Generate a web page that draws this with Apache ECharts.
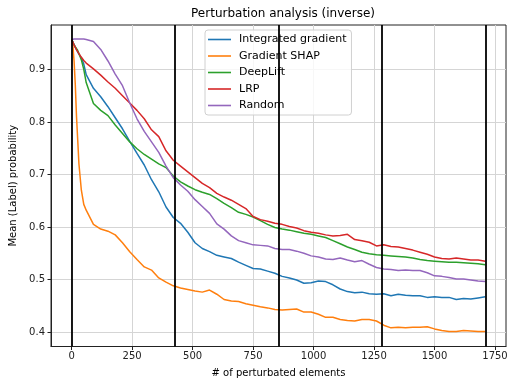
<!DOCTYPE html>
<html>
<head>
<meta charset="utf-8">
<script src="https://cdn.jsdelivr.net/npm/echarts@6/dist/echarts.min.js"></script>
<style>
  html, body { margin: 0; padding: 0; background: #fff; }
  #chart { width: 508px; height: 385px; }
</style>
</head>
<body>
<div id="chart"></div>
<script>
// Number of perturbated elements at each sample
const steps = [0, 5, 10, 15, 20, 25, 30, 40, 50, 60,
  90, 120, 150, 180, 210, 240, 270, 300, 330, 360, 390, 420, 450, 480, 510, 540, 570, 600,
  630, 660, 690, 720, 750, 780, 810, 840, 870, 900, 930, 960, 990, 1020, 1050, 1080, 1110,
  1140, 1170, 1200, 1230, 1260, 1290, 1320, 1350, 1380, 1410, 1440, 1470, 1500, 1530, 1560,
  1590, 1620, 1650, 1680, 1710];

const integratedGradient = [0.957, 0.952, 0.947, 0.942, 0.938, 0.933, 0.929, 0.922, 0.910, 0.890,
  0.864, 0.848, 0.829, 0.808, 0.787, 0.763, 0.740, 0.718, 0.690, 0.667, 0.638, 0.618, 0.607, 0.590, 0.570, 0.559, 0.553, 0.546,
  0.543, 0.540, 0.533, 0.527, 0.521, 0.520, 0.516, 0.512, 0.506, 0.503, 0.499, 0.493, 0.494, 0.497, 0.496, 0.490, 0.482,
  0.477, 0.475, 0.476, 0.473, 0.472, 0.473, 0.469, 0.472, 0.470, 0.469, 0.469, 0.466, 0.467, 0.466, 0.466,
  0.462, 0.464, 0.463, 0.465, 0.467];

const gradientShap = [0.957, 0.945, 0.915, 0.870, 0.810, 0.765, 0.720, 0.670, 0.643, 0.632,
  0.605, 0.596, 0.592, 0.585, 0.570, 0.553, 0.538, 0.524, 0.518, 0.503, 0.495, 0.488, 0.484, 0.481, 0.478, 0.476, 0.480, 0.472,
  0.462, 0.459, 0.458, 0.454, 0.451, 0.448, 0.446, 0.443, 0.442, 0.443, 0.444, 0.438, 0.438, 0.434, 0.428, 0.428, 0.424,
  0.422, 0.421, 0.424, 0.424, 0.421, 0.413, 0.408, 0.409, 0.408, 0.409, 0.409, 0.410, 0.406, 0.403, 0.401,
  0.401, 0.403, 0.402, 0.401, 0.401];

const deepLift = [0.957, 0.952, 0.947, 0.943, 0.940, 0.936, 0.933, 0.918, 0.900, 0.875,
  0.835, 0.822, 0.812, 0.794, 0.778, 0.762, 0.749, 0.738, 0.729, 0.720, 0.713, 0.697, 0.686, 0.678, 0.671, 0.666, 0.662, 0.654,
  0.645, 0.637, 0.628, 0.624, 0.619, 0.612, 0.605, 0.599, 0.596, 0.594, 0.591, 0.588, 0.586, 0.583, 0.580, 0.574, 0.568,
  0.562, 0.557, 0.552, 0.549, 0.547, 0.546, 0.545, 0.544, 0.543, 0.541, 0.538, 0.536, 0.535, 0.534, 0.533,
  0.533, 0.532, 0.531, 0.530, 0.528];

const lrp = [0.957, 0.952, 0.946, 0.942, 0.937, 0.934, 0.930, 0.923, 0.917, 0.912,
  0.901, 0.889, 0.876, 0.864, 0.850, 0.836, 0.822, 0.806, 0.785, 0.772, 0.745, 0.727, 0.716, 0.705, 0.694, 0.683, 0.675, 0.664,
  0.657, 0.651, 0.643, 0.635, 0.620, 0.614, 0.611, 0.607, 0.605, 0.601, 0.598, 0.593, 0.590, 0.588, 0.585, 0.583, 0.584,
  0.586, 0.576, 0.574, 0.571, 0.564, 0.566, 0.563, 0.562, 0.559, 0.556, 0.552, 0.548, 0.543, 0.540, 0.539,
  0.541, 0.539, 0.537, 0.537, 0.535];

const random = [0.957, 0.958, 0.958, 0.958, 0.958, 0.958, 0.958, 0.958, 0.958, 0.957,
  0.953, 0.938, 0.916, 0.891, 0.869, 0.836, 0.806, 0.782, 0.762, 0.742, 0.716, 0.694, 0.680, 0.668, 0.652, 0.639, 0.626, 0.606,
  0.596, 0.583, 0.574, 0.570, 0.566, 0.565, 0.564, 0.559, 0.557, 0.557, 0.554, 0.550, 0.545, 0.543, 0.539, 0.538, 0.541,
  0.537, 0.534, 0.536, 0.529, 0.523, 0.520, 0.519, 0.517, 0.518, 0.517, 0.517, 0.513, 0.507, 0.506, 0.504,
  0.501, 0.501, 0.499, 0.497, 0.496];

// Quarter boundaries of the perturbation run
const quarterMarks = [0, 427, 855, 1282, 1710];

const xTicks = [0, 250, 500, 750, 1000, 1250, 1500, 1750];
const yTicks = [0.4, 0.5, 0.6, 0.7, 0.8, 0.9];

const seriesDefs = [
  { name: 'Integrated gradient', values: integratedGradient, color: '#1f77b4' },
  { name: 'Gradient SHAP', values: gradientShap, color: '#ff7f0e' },
  { name: 'DeepLift', values: deepLift, color: '#2ca02c' },
  { name: 'LRP', values: lrp, color: '#d62728' },
  { name: 'Random', values: random, color: '#9467bd' }
];

const font = 'DejaVu Sans';
const chart = echarts.init(document.getElementById('chart'), null, { renderer: 'canvas' });

const series = seriesDefs.map(s => ({
  name: s.name,
  type: 'line',
  data: steps.map((x, i) => [x, s.values[i]]),
  showSymbol: false,
  symbol: 'none',
  lineStyle: { color: s.color, width: 1.5 },
  itemStyle: { color: s.color },
  animation: false,
  z: 3
}));

series.push({
  name: 'quarters',
  type: 'line',
  data: [],
  silent: true,
  animation: false,
  markLine: {
    symbol: 'none',
    silent: true,
    animation: false,
    label: { show: false },
    lineStyle: { color: '#000', width: 1.8, type: 'solid' },
    data: quarterMarks.map(v => ({ xAxis: v }))
  },
  z: 4
});

chart.setOption({
  animation: false,
  backgroundColor: '#fff',
  title: {
    text: 'Perturbation analysis (inverse)',
    left: 278, top: 3,
    textAlign: 'center',
    textStyle: { fontFamily: font, fontSize: 12, fontWeight: 'normal', color: '#000' }
  },
  legend: {
    data: seriesDefs.map(s => s.name),
    orient: 'vertical',
    left: 205, top: 30,
    icon: 'rect',
    itemWidth: 23, itemHeight: 1.6,
    itemGap: 3.5,
    padding: [3, 5, 3, 3],
    backgroundColor: 'rgba(255,255,255,0.8)',
    borderColor: '#d0d0d0', borderWidth: 1, borderRadius: 3,
    textStyle: { fontFamily: font, fontSize: 11, color: '#000', lineHeight: 13, padding: [0, 0, 0, 3] }
  },
  grid: {
    left: 51, right: 2, top: 25, bottom: 38.5,
    outerBoundsMode: 'none',
    containLabel: false,
    show: true, borderColor: '#222', borderWidth: 1, backgroundColor: 'transparent'
  },
  xAxis: {
    type: 'value',
    min: -85.5, max: 1795.5,
    name: '# of perturbated elements',
    nameLocation: 'middle', nameGap: 22,
    nameTextStyle: { fontFamily: font, fontSize: 10, color: '#000' },
    axisLine: { show: true, onZero: false, lineStyle: { color: '#222', width: 1 } },
    axisTick: { show: true, length: 3.5, customValues: xTicks, lineStyle: { color: '#222' } },
    axisLabel: { customValues: xTicks, margin: 5, fontFamily: font, fontSize: 10, color: '#222',
      formatter: v => String(Math.round(v)) },
    splitLine: { show: true, customValues: xTicks, lineStyle: { color: '#d5d5d5', width: 1 } }
  },
  yAxis: {
    type: 'value',
    min: 0.3725, max: 0.9845,
    name: 'Mean (Label) probability',
    nameLocation: 'middle', nameGap: 31, nameRotate: 90,
    nameTextStyle: { fontFamily: font, fontSize: 10, color: '#000' },
    axisLine: { show: true, onZero: false, lineStyle: { color: '#222', width: 1 } },
    axisTick: { show: true, length: 3.5, customValues: yTicks, lineStyle: { color: '#222' } },
    axisLabel: { customValues: yTicks, margin: 6, fontFamily: font, fontSize: 10, color: '#222',
      formatter: v => v.toFixed(1) },
    splitLine: { show: true, customValues: yTicks, lineStyle: { color: '#d5d5d5', width: 1 } }
  },
  series: series
});
</script>
</body>
</html>
